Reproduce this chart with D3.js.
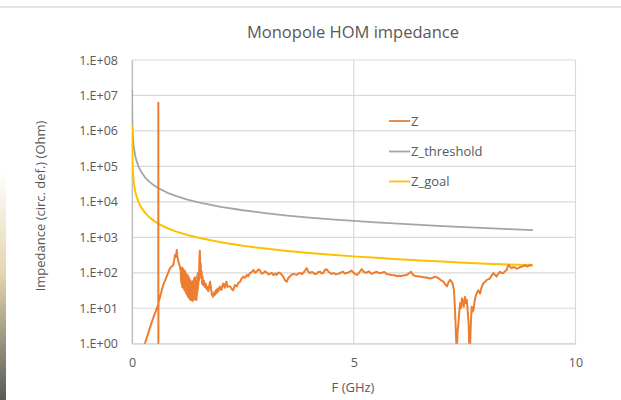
<!DOCTYPE html>
<html><head><meta charset="utf-8">
<script src="https://cdn.jsdelivr.net/npm/d3@7"></script>
<style>
html,body{margin:0;padding:0;background:#fff;}
svg{display:block;}
text{font-family:"Open Sans","Noto Sans",sans-serif;fill:#595959;}
</style></head>
<body>
<svg id="c" width="621" height="400"></svg>
<script>
// ---- data ----
const title = "Monopole HOM impedance";
const xLabel = "F (GHz)";
const yLabel = "Impedance (circ. def.) (Ohm)";
const xTicks = [0, 5, 10];
const yTickValues = [1, 1e1, 1e2, 1e3, 1e4, 1e5, 1e6, 1e7, 1e8];
const yTickLabels = ["1.E+00","1.E+01","1.E+02","1.E+03","1.E+04","1.E+05","1.E+06","1.E+07","1.E+08"];
const seriesNames = ["Z", "Z_threshold", "Z_goal"];

const thrF = [0.001,0.002,0.004,0.007,0.01,0.02,0.035,0.05,0.075,0.1,0.15,0.2,0.3,0.4,0.5,0.6,0.8,1,1.25,1.5,2,2.5,3,3.5,4,4.5,5,5.5,6,6.5,7,7.5,8,8.5,9.04];
const thrZ = [1.45e7,7.25e6,3.6e6,2.07e6,1.45e6,7.25e5,4.1e5,2.9e5,1.93e5,1.45e5,9.7e4,7.25e4,4.8e4,3.6e4,2.9e4,2.4e4,1.8e4,1.45e4,1.16e4,9.7e3,7.25e3,5.8e3,4.8e3,4.1e3,3.6e3,3.2e3,2.9e3,2.64e3,2.42e3,2.23e3,2.07e3,1.93e3,1.81e3,1.7e3,1.6e3];

const goalF = thrF;
const goalZ = [1.45e6,7.25e5,3.6e5,2.07e5,1.45e5,7.25e4,4.1e4,2.9e4,1.93e4,1.45e4,9.7e3,7.25e3,4.8e3,3.6e3,2.9e3,2.4e3,1.8e3,1.45e3,1.16e3,970,725,580,480,410,360,320,290,264,242,223,207,193,181,170,162];

const zF = [0.25,0.45,0.593,0.594,0.595,0.596,0.706,0.78,0.857,0.93,0.95,0.97,0.99,1.01,1.02,1.04,1.06,1.08,
1.100,1.105,1.110,1.115,1.120,1.125,1.130,1.135,1.140,1.145,1.150,1.155,1.160,1.165,1.170,1.175,1.180,1.185,1.190,1.195,1.200,1.205,1.210,1.215,1.220,1.225,1.230,1.235,1.240,1.245,1.250,1.255,1.260,1.265,1.270,1.275,1.280,1.285,1.290,1.295,1.300,1.305,1.310,1.315,1.320,1.325,1.330,1.335,1.340,1.345,1.350,1.355,1.360,1.365,1.370,1.375,1.380,1.385,1.390,1.395,1.400,1.405,1.410,1.415,1.420,1.425,1.430,1.435,1.440,1.445,1.450,1.455,1.460,1.465,1.470,1.475,1.480,1.485,1.490,1.495,
1.50,1.51,1.52,1.53,1.54,1.55,1.56,1.57,1.58,1.59,1.60,1.62,1.64,1.66,1.68,1.70,1.72,1.76,1.80,1.83,
1.85,1.87,1.89,1.91,1.93,1.95,1.98,2.00,2.02,2.04,2.06,2.09,2.11,2.13,2.15,2.17,2.21,2.25,2.28,2.32,2.36,2.40,2.44,2.47,2.51,2.55,2.59,2.62,2.66,2.70,2.74,2.78,2.81,2.85,2.89,2.92,2.96,3.00,3.04,3.08,3.11,3.15,3.19,3.23,3.26,3.30,3.34,3.38,3.41,3.45,3.49,3.52,3.56,3.60,3.64,3.68,3.71,3.75,3.79,3.83,3.86,3.90,3.94,3.97,4.01,4.05,4.09,4.12,4.16,4.20,4.24,4.28,4.31,4.35,4.39,4.43,4.46,4.50,4.55,4.60,4.65,4.70,4.76,4.80,4.84,4.90,4.95,5.00,5.03,5.07,5.12,5.18,5.23,5.29,5.34,5.40,5.46,5.52,5.57,5.63,5.69,5.74,5.80,5.86,5.92,5.97,6.03,6.08,6.14,6.19,6.24,6.29,6.33,6.38,6.43,6.49,6.55,6.61,6.66,6.72,6.78,6.83,6.88,6.94,6.98,7.02,7.06,7.10,7.13,7.17,7.20,7.23,7.26,7.28,7.31,7.32,7.34,7.36,7.38,7.40,7.42,7.44,7.46,7.48,7.50,7.51,7.53,7.55,7.57,7.59,7.61,7.62,7.64,7.66,7.68,7.70,7.73,7.75,7.77,7.79,7.81,7.83,7.85,7.87,7.89,7.92,7.96,8.00,8.04,8.07,8.11,8.15,8.18,8.22,8.26,8.30,8.33,8.37,8.41,8.45,8.47,8.49,8.52,8.56,8.60,8.64,8.67,8.71,8.75,8.79,8.83,8.86,8.90,8.94,8.97,9.00,9.02];
const zZ = [0.7,4.2,13,6.2e6,0.01,14,46,78,135,166,220,316,280,436,300,229,180,148,
110,60,130,50,120,45,140,40,100,55,130,38,90,42,120,35,100,32,85,40,110,30,75,28,95,26,70,30,80,24,65,22,85,25,60,20,75,22,55,19,65,18,50,20,60,17,45,19,55,17,40,18,50,16,45,19,60,17,50,20,70,18,55,22,75,20,50,18,60,22,45,17,55,24,80,28,90,35,100,45,
100,60,250,420,120,180,70,110,50,80,45,60,40,50,35,40,30,56,24,21,
28,24,32,27,36,30,41,34,33,44,50,38,48,56,40,42,41,35,32,45,41,52,56,68,78,72,87,80,98,105,120,100,107,125,115,95,98,110,100,90,93,100,85,95,87,102,98,88,78,62,56,70,78,88,93,90,87,95,98,92,100,115,135,110,98,105,100,92,93,105,107,95,98,120,126,107,100,93,98,90,93,100,107,95,98,105,115,100,92,87,100,126,105,100,110,93,100,107,98,100,105,93,90,87,85,81,83,81,85,87,95,107,90,81,80,78,76,74,72,69,72,78,74,66,60,56,48,41,52,63,58,50,32,11,1.3,0.5,2,3.7,8,14,10,19,15,11,18,21,14,17,8,3.7,0.5,0.6,3.7,11,8,9,17,22,26,30,32,28,26,35,41,50,56,63,66,69,85,98,88,78,95,107,98,98,110,120,150,166,150,135,145,141,130,135,145,148,155,166,150,155,170,160,165];

const colors = ["#ED7D31", "#A5A5A5", "#FFC000"];

// ---- chart ----
const svg = d3.select("#c");
const L = 132, R = 575.5, T = 60, B = 343.7;

// slide decoration
svg.append("line").attr("x1",0).attr("x2",621).attr("y1",7).attr("y2",7)
  .attr("stroke","#e3e3e3").attr("stroke-width",2);
const grad = svg.append("defs").append("linearGradient").attr("id","lg").attr("x1",0).attr("x2",0).attr("y1",0).attr("y2",1);
grad.append("stop").attr("offset","0").attr("stop-color","#fff");
grad.append("stop").attr("offset","0.45").attr("stop-color","#e3d5ae");
grad.append("stop").attr("offset","1").attr("stop-color","#5a5a56");
svg.append("rect").attr("x",0).attr("y",170).attr("width",6).attr("height",230).attr("fill","url(#lg)");

const x = d3.scaleLinear().domain([0, 10]).range([L, R]);
const y = d3.scaleLog().domain([1, 1e8]).range([B, T]);

// gridlines
svg.append("g").selectAll("line").data(yTickValues).join("line")
  .attr("x1", L).attr("x2", R).attr("y1", d => y(d)).attr("y2", d => y(d))
  .attr("stroke", "#d9d9d9").attr("stroke-width", 1.2);
svg.append("g").selectAll("line").data(xTicks).join("line")
  .attr("x1", d => x(d)).attr("x2", d => x(d)).attr("y1", T).attr("y2", B)
  .attr("stroke", "#d9d9d9").attr("stroke-width", 1.2);

// axes
const yAxis = d3.axisLeft(y).tickValues(yTickValues).tickSize(0).tickPadding(14)
  .tickFormat((d, i) => yTickLabels[i]);
const gy = svg.append("g").attr("transform", `translate(${L},0)`).call(yAxis);
gy.select(".domain").attr("stroke", "#bfbfbf").attr("stroke-width", 1.2);
gy.selectAll("text").attr("font-size", 12.5).attr("fill", "#595959")
  .style("font-family", '"Open Sans","Noto Sans",sans-serif');

const xAxis = d3.axisBottom(x).tickValues(xTicks).tickSize(0).tickPadding(14);
const gx = svg.append("g").attr("transform", `translate(0,${B})`).call(xAxis);
gx.select(".domain").attr("stroke", "#d9d9d9").attr("stroke-width", 1.2);
gx.selectAll("text").attr("font-size", 12.5).attr("fill", "#595959")
  .style("font-family", '"Open Sans","Noto Sans",sans-serif');

// clip
svg.append("clipPath").attr("id", "clip").append("rect")
  .attr("x", L).attr("y", T).attr("width", R - L).attr("height", B - T);

const line = d3.line().x(d => x(d[0])).y(d => y(Math.max(d[1], 0.05)));
const plot = svg.append("g").attr("clip-path", "url(#clip)");
const series = [
  { name: seriesNames[1], data: d3.zip(thrF, thrZ), color: colors[1], w: 1.8 },
  { name: seriesNames[2], data: d3.zip(goalF, goalZ), color: colors[2], w: 2 },
  { name: seriesNames[0], data: d3.zip(zF, zZ), color: colors[0], w: 2 }
];
plot.selectAll("path").data(series).join("path")
  .attr("d", d => line(d.data)).attr("fill", "none")
  .attr("stroke", d => d.color).attr("stroke-width", d => d.w)
  .attr("stroke-linejoin", "round");

// title
svg.append("text").attr("x", 353).attr("y", 38).attr("text-anchor", "middle")
  .attr("font-size", 16.5).text(title);
// axis titles
svg.append("text").attr("x", 353).attr("y", 392).attr("text-anchor", "middle")
  .attr("font-size", 13).text(xLabel);
svg.append("text").attr("transform", "translate(45,206) rotate(-90)")
  .attr("text-anchor", "middle").attr("font-size", 13).text(yLabel);

// legend
const legY = [121, 151.5, 181.5];
const lg = svg.append("g");
[0, 1, 2].forEach(i => {
  lg.append("line").attr("x1", 389).attr("x2", 410).attr("y1", legY[i]).attr("y2", legY[i])
    .attr("stroke", colors[i]).attr("stroke-width", 1.8);
  lg.append("text").attr("x", 411).attr("y", legY[i]).attr("dy", "0.35em")
    .attr("font-size", 13).text(seriesNames[i]);
});
</script>
</body></html>
